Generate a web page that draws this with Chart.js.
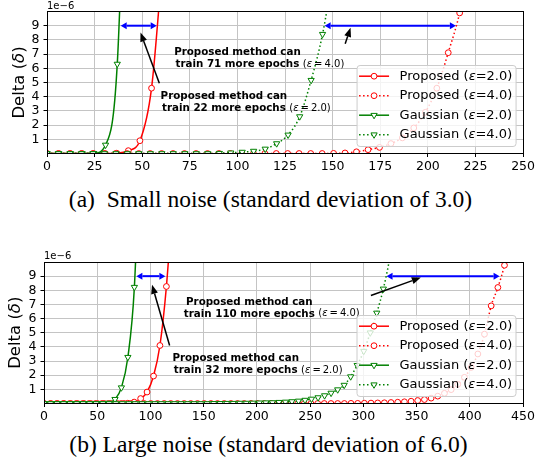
<!DOCTYPE html>
<html>
<head>
<meta charset="utf-8">
<script src="https://cdn.jsdelivr.net/npm/chart.js@4.4.1/dist/chart.umd.min.js"></script>
<style>
  html, body { margin: 0; padding: 0; background: #fff; }
  body { position: relative; width: 537px; height: 465px; overflow: hidden; }
  canvas { position: absolute; left: 0; }
  #chartA { top: 0; }
  #chartB { top: 240px; }
  .cap { position: absolute; left: 0; width: 537px; text-align: center; white-space: pre;
         font-family: "Liberation Serif", serif; font-size: 23.5px; line-height: 23px; color: #000; }
</style>
</head>
<body>
<canvas id="chartA" width="537" height="175" style="width:537px;height:175px"></canvas>
<div class="cap" style="top:188px;left:2px">(a)  Small noise (standard deviation of 3.0)</div>
<canvas id="chartB" width="537" height="185" style="width:537px;height:185px"></canvas>
<div class="cap" style="top:433px">(b) Large noise (standard deviation of 6.0)</div>
<script>
// epochs (x) and delta in units of 1e-6 (y)
const xTicksA = [0, 25, 50, 75, 100, 125, 150, 175, 200, 225, 250];
const xTicksB = [0, 50, 100, 150, 200, 250, 300, 350, 400, 450];
const yTicks = [1, 2, 3, 4, 5, 6, 7, 8, 9];
const labels = ["Proposed (ε=2.0)", "Proposed (ε=4.0)", "Gaussian (ε=2.0)", "Gaussian (ε=4.0)"];

// (a) small noise
const propA2X = [0, 6.1, 12.2, 18.3, 24.4, 30.5, 36.6, 42.7, 48.8, 54.9, 61];
const propA2Y = [0, 0, 0, 0, 0, 0, 0.02, 0.2, 0.9, 4.6, 14];
const propA4X = [0, 6, 12, 18.1, 24.1, 30.1, 36.1, 42.1, 48.2, 54.2, 60.2, 66.2, 72.2, 78.3, 84.3,
  90.3, 96.3, 102.3, 108.4, 114.4, 120.4, 126.4, 132.4, 138.5, 144.5, 150.5, 156.5, 162.5, 168.6,
  174.6, 180.6, 186.6, 192.6, 198.7, 204.7, 210.7, 216.7, 222.7];
const propA4Y = [0, 0, 0, 0, 0, 0, 0, 0, 0, 0, 0, 0, 0, 0, 0, 0, 0, 0, 0, 0, 0, 0, 0, 0, 0,
  0.01, 0.04, 0.12, 0.27, 0.43, 0.7, 1.1, 1.8, 2.9, 4.6, 7.1, 9.9, 14];
const gaussA2X = [0, 6.15, 12.3, 18.45, 24.6, 30.75, 36.9, 43.05];
const gaussA2Y = [0, 0, 0, 0, 0.01, 0.6, 6.3, 30];
const gaussA4X = [0, 6, 12.1, 18.1, 24.1, 30.2, 36.2, 42.2, 48.2, 54.3, 60.3, 66.3, 72.4, 78.4, 84.4,
  90.5, 96.5, 102.5, 108.5, 114.6, 120.6, 126.6, 132.7, 138.7, 144.7, 150.8];
const gaussA4Y = [0, 0, 0, 0, 0, 0, 0, 0, 0, 0, 0, 0, 0, 0, 0,
  0.02, 0.05, 0.1, 0.17, 0.32, 0.7, 1.31, 2.6, 5.16, 8.4, 13.2];

// (b) large noise
const propB2X = [0, 6.1, 12.1, 18.2, 24.2, 30.3, 36.3, 42.4, 48.4, 54.5, 60.5, 66.6, 72.6, 78.7,
  84.7, 90.8, 96.8, 102.9, 108.9, 115, 121];
const propB2Y = [0, 0, 0, 0, 0, 0, 0, 0, 0, 0, 0, 0, 0, 0.02, 0.1, 0.35, 0.81, 1.94, 4.1, 8.27, 14.5];
const propB4X = [0, 6.3, 12.5, 18.8, 25.1, 31.4, 37.6, 43.9, 50.2, 56.4, 62.7, 69, 75.2, 81.5, 87.8,
  94.1, 100.3, 106.6, 112.9, 119.1, 125.4, 131.7, 137.9, 144.2, 150.5, 156.8, 163, 169.3, 175.6,
  181.8, 188.1, 194.4, 200.6, 206.9, 213.2, 219.5, 225.7, 232, 238.3, 244.5, 250.8, 257.1, 263.3,
  269.6, 275.9, 282.2, 288.4, 294.7, 301, 307.2, 313.5, 319.8, 326, 332.3, 338.6, 344.9, 351.1,
  357.4, 363.7, 369.9, 376.2, 382.5, 388.7, 395, 401.3, 407.6, 413.8, 420.1, 426.4, 432.6, 438.9];
const propB4Y = [0, 0, 0, 0, 0, 0, 0, 0, 0, 0, 0, 0, 0, 0, 0, 0, 0, 0, 0, 0, 0, 0, 0, 0, 0, 0,
  0, 0, 0, 0, 0, 0, 0, 0, 0, 0, 0, 0, 0, 0, 0, 0, 0, 0, 0, 0,
  0.01, 0.01, 0.02, 0.03, 0.04, 0.05, 0.07, 0.09, 0.12, 0.16, 0.21, 0.28, 0.38, 0.52, 0.72, 0.98,
  1.35, 1.85, 2.55, 3.5, 4.9, 6.9, 8.2, 9.77, 12];
const gaussB2X = [0, 6.1, 12.1, 18.2, 24.2, 30.3, 36.4, 42.4, 48.5, 54.5, 60.6, 66.7, 72.7, 78.8, 84.9, 90.9];
const gaussB2Y = [0, 0, 0, 0, 0, 0, 0, 0, 0, 0, 0.03, 0.3, 1.12, 3.27, 8.22, 20];
const gaussB4X = [0, 6.1, 12.3, 18.4, 24.5, 30.7, 36.8, 42.9, 49, 55.2, 61.3, 67.4, 73.6, 79.7, 85.8,
  92, 98.1, 104.2, 110.3, 116.5, 122.6, 128.7, 134.9, 141, 147.1, 153.3, 159.4, 165.5, 171.6, 177.8,
  183.9, 190, 196.2, 202.3, 208.4, 214.6, 220.7, 226.8, 232.9, 239.1, 245.2, 251.3, 257.5, 263.6,
  269.7, 275.9, 282, 288.1, 294.2, 300.4, 306.5, 312.6, 318.8, 324.9, 331];
const gaussB4Y = [0, 0, 0, 0, 0, 0, 0, 0, 0, 0, 0, 0, 0, 0, 0, 0, 0, 0, 0, 0, 0, 0, 0, 0, 0, 0,
  0.01, 0.01, 0.02, 0.02, 0.03, 0.03, 0.04, 0.05, 0.06, 0.07, 0.09, 0.11, 0.14, 0.18, 0.24, 0.32,
  0.42, 0.56, 0.74, 0.98, 1.3, 1.9, 2.7, 3.7, 5.0, 6.4, 8.1, 10.3, 13];

const FONT = '"DejaVu Sans"';
const RED = "#ff0000", GREEN = "#008000";
const styles = [
  { color: RED, dash: [], shape: "circle" },
  { color: RED, dash: [1.5, 2.5], shape: "circle" },
  { color: GREEN, dash: [], shape: "triangle" },
  { color: GREEN, dash: [1.5, 2.5], shape: "triangle" },
];

// text with greek letters set in italic, like matplotlib mathtext
function richText(ctx, text, x, y, size, bold, align) {
  const runs = [];
  for (const ch of text) {
    const it = ch === "ε" || ch === "δ";
    const last = runs[runs.length - 1];
    if (last && last.it === it) last.t += ch;
    else runs.push({ t: ch, it: it });
  }
  const fontOf = (r) => (r.it ? "italic " : "") + (bold ? "bold " : "") + size + "px " + FONT;
  let w = 0;
  runs.forEach((r) => { ctx.font = fontOf(r); r.w = ctx.measureText(r.t).width; w += r.w; });
  let cx = align === "center" ? x - w / 2 : x;
  ctx.textAlign = "left";
  ctx.textBaseline = "middle";
  ctx.fillStyle = "#000";
  runs.forEach((r) => { ctx.font = fontOf(r); ctx.fillText(r.t, cx, y); cx += r.w; });
  return w;
}

function arrowHead(ctx, x0, y0, x1, y1, len, half) {
  const a = Math.atan2(y1 - y0, x1 - x0);
  const bx = x1 - len * Math.cos(a), by = y1 - len * Math.sin(a);
  ctx.beginPath();
  ctx.moveTo(x1, y1);
  ctx.lineTo(bx + half * Math.sin(a), by - half * Math.cos(a));
  ctx.lineTo(bx - half * Math.sin(a), by + half * Math.cos(a));
  ctx.closePath();
  ctx.fill();
  return [bx, by];
}

function marker(ctx, shape, x, y, color) {
  ctx.beginPath();
  if (shape === "circle") {
    ctx.arc(x, y, 2.9, 0, Math.PI * 2);
  } else {
    const r = 3.6;
    ctx.moveTo(x, y + r);
    ctx.lineTo(x - r * Math.sin(Math.PI / 3), y - r / 2);
    ctx.lineTo(x + r * Math.sin(Math.PI / 3), y - r / 2);
    ctx.closePath();
  }
  ctx.fillStyle = "#fff";
  ctx.fill();
  ctx.lineWidth = 1;
  ctx.strokeStyle = color;
  ctx.setLineDash([]);
  ctx.stroke();
}

const overlay = (def) => ({
  id: "overlay",
  afterDatasetsDraw(chart) {
    const ctx = chart.ctx, a = chart.chartArea;
    const sx = chart.scales.x, sy = chart.scales.y;
    const P = (x, y) => [sx.getPixelForValue(x), sy.getPixelForValue(y)];
    ctx.save();
    // frame
    const al = (p) => Math.round(p - 0.5) + 0.5;
    ctx.strokeStyle = "#000";
    ctx.lineWidth = 1;
    ctx.strokeRect(al(a.left), al(a.top), al(a.right) - al(a.left), al(a.bottom) - al(a.top));
    // offset text and axis title
    richText(ctx, "1e\u22126", a.left, a.top - 5.5, 10, false, "left");
    ctx.save();
    ctx.translate(a.left - def.titleOffset, (a.top + a.bottom) / 2);
    ctx.rotate(-Math.PI / 2);
    richText(ctx, "Delta (δ)", 0, 0, 16.5, false, "center");
    ctx.restore();
    // blue double arrows
    ctx.strokeStyle = "#0000ff";
    ctx.lineWidth = 2;
    def.spans.forEach(([x0, x1, y]) => {
      const [p0x, py] = P(x0, y), [p1x] = P(x1, y);
      ctx.fillStyle = "#0000ff";
      const [ax] = arrowHead(ctx, p1x, py, p0x, py, 6, 3.5);
      const [bx] = arrowHead(ctx, p0x, py, p1x, py, 6, 3.5);
      ctx.beginPath(); ctx.moveTo(ax, py); ctx.lineTo(bx, py); ctx.stroke();
    });
    // black pointers
    ctx.strokeStyle = "#000";
    ctx.lineWidth = 1.5;
    def.pointers.forEach(([x0, y0, x1, y1]) => {
      const [t0, t1] = P(x0, y0), [h0, h1] = P(x1, y1);
      ctx.fillStyle = "#000";
      const [bx, by] = arrowHead(ctx, t0, t1, h0, h1, 9, 3.5);
      ctx.beginPath(); ctx.moveTo(t0, t1); ctx.lineTo(bx, by); ctx.stroke();
    });
    // notes
    def.notes.forEach((n) => {
      const [cx, cy] = P(n.x, n.y);
      richText(ctx, n.lines[0], cx, cy, 10.3, true, "center");
      const w2 = richText(ctx, n.lines[1], cx, cy + 11.8, 10.3, true, "center");
      richText(ctx, n.eps, cx + w2 / 2 + 3.5, cy + 11.8, 10, false, "left");
    });
    ctx.restore();
  },
  afterDraw(chart) {
    const ctx = chart.ctx, a = chart.chartArea;
    const w = 159, h = 81;
    const x = a.right - 7 - w, y = a.bottom - 7 - h, r = 3;
    ctx.save();
    ctx.beginPath();
    ctx.moveTo(x + r, y);
    ctx.arcTo(x + w, y, x + w, y + h, r);
    ctx.arcTo(x + w, y + h, x, y + h, r);
    ctx.arcTo(x, y + h, x, y, r);
    ctx.arcTo(x, y, x + w, y, r);
    ctx.closePath();
    ctx.fillStyle = "rgba(255,255,255,0.8)";
    ctx.fill();
    ctx.strokeStyle = "#cccccc";
    ctx.lineWidth = 1;
    ctx.stroke();
    labels.forEach((lab, k) => {
      const s = styles[k], ry = y + 10.7 + k * 19.5;
      ctx.strokeStyle = s.color;
      ctx.lineWidth = 1.5;
      ctx.setLineDash(s.dash);
      ctx.beginPath(); ctx.moveTo(x + 2, ry); ctx.lineTo(x + 32, ry); ctx.stroke();
      marker(ctx, s.shape, x + 17, ry, s.color);
      richText(ctx, lab, x + 42.5, ry, 13, false, "left");
    });
    ctx.restore();
  },
});

function makeChart(def) {
  const datasets = def.series.map((s, k) => ({
    label: labels[k],
    data: s[0].map((x, i) => ({ x: x, y: s[1][i] })),
    borderColor: styles[k].color,
    borderWidth: 1.5,
    borderDash: styles[k].dash,
    pointStyle: styles[k].shape,
    pointRotation: styles[k].shape === "triangle" ? 180 : 0,
    pointRadius: styles[k].shape === "triangle" ? 3.6 : 2.9,
    pointBorderWidth: 1,
    pointBorderColor: styles[k].color,
    pointBackgroundColor: "#fff",
    cubicInterpolationMode: "monotone",
    fill: false,
    clip: 0,
    order: 4 - k,
  }));
  const tickFont = { family: FONT, size: 12.5 };
  return new Chart(document.getElementById(def.id), {
    type: "line",
    data: { datasets: datasets },
    options: {
      responsive: false,
      animation: false,
      devicePixelRatio: 1,
      events: [],
      layout: { padding: def.pad },
      plugins: { legend: { display: false }, tooltip: { enabled: false } },
      scales: {
        x: {
          type: "linear", min: 0, max: def.xMax,
          afterBuildTicks: (sc) => { sc.ticks = def.xTicks.map((v) => ({ value: v })); },
          afterFit: (sc) => { sc.height = 21.5; },
          border: { display: false },
          grid: { color: "#c4c4c4", lineWidth: 1, tickColor: "#000", tickLength: 3.5, tickWidth: 1 },
          ticks: { font: tickFont, color: "#000", padding: 2, maxRotation: 0, autoSkip: false },
        },
        y: {
          type: "linear", min: 0, max: 10,
          afterBuildTicks: (sc) => { sc.ticks = yTicks.map((v) => ({ value: v })); },
          afterFit: (sc) => { sc.width = def.yAxisW; },
          border: { display: false },
          grid: { color: "#c4c4c4", lineWidth: 1, tickColor: "#000", tickLength: 3.5, tickWidth: 1 },
          ticks: { font: tickFont, color: "#000", padding: 4, autoSkip: false },
        },
      },
    },
    plugins: [overlay(def)],
  });
}

makeChart({
  id: "chartA", xMax: 250, xTicks: xTicksA, yAxisW: 47, titleOffset: 27.5,
  pad: { top: 11, right: 11, left: 0, bottom: 0 },
  series: [[propA2X, propA2Y], [propA4X, propA4Y], [gaussA2X, gaussA2Y], [gaussA4X, gaussA4Y]],
  spans: [[38.7, 57.6, 9], [145.8, 214.7, 9]],
  pointers: [[59, 4.95, 49.1, 8.52], [156.6, 7.73, 159.4, 8.85]],
  notes: [
    { x: 100, y: 7.14, lines: ["Proposed method can", "train 71 more epochs"], eps: "(ε\u2009=\u20094.0)" },
    { x: 92.9, y: 4.04, lines: ["Proposed method can", "train 22 more epochs"], eps: "(ε\u2009=\u20092.0)" },
  ],
});

makeChart({
  id: "chartB", xMax: 450, xTicks: xTicksB, yAxisW: 44, titleOffset: 27.8,
  pad: { top: 22, right: 14, left: 0, bottom: 0 },
  series: [[propB2X, propB2Y], [propB4X, propB4Y], [gaussB2X, gaussB2Y], [gaussB4X, gaussB4Y]],
  spans: [[86.8, 114, 9], [321.8, 428, 9]],
  pointers: [[118, 4.1, 101.5, 8.39], [307.1, 7.63, 354, 8.9]],
  notes: [
    { x: 192.9, y: 7.17, lines: ["Proposed method can", "train 110 more epochs"], eps: "(ε\u2009=\u20094.0)" },
    { x: 180.1, y: 3.18, lines: ["Proposed method can", "train 32 more epochs"], eps: "(ε\u2009=\u20092.0)" },
  ],
});
</script>
</body>
</html>
